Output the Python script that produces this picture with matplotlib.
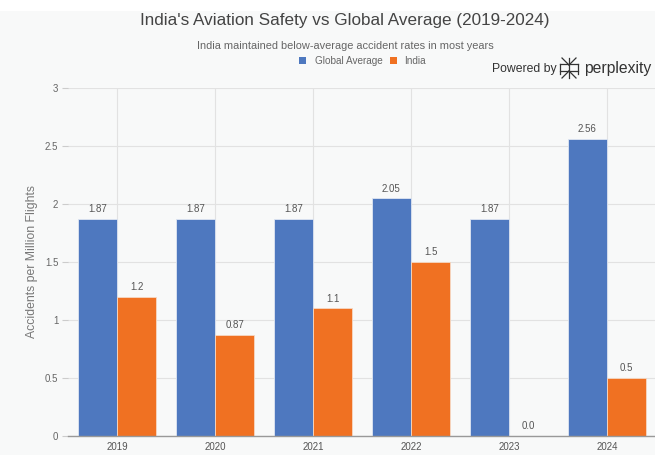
import matplotlib
matplotlib.use("Agg")
import matplotlib.pyplot as plt
import numpy as np
from matplotlib.patches import Rectangle

years = ["2019", "2020", "2021", "2022", "2023", "2024"]
global_avg = [1.87, 1.87, 1.87, 2.05, 1.87, 2.56]
india = [1.2, 0.87, 1.1, 1.5, 0.0, 0.5]
global_labels = ["1.87", "1.87", "1.87", "2.05", "1.87", "2.56"]
india_labels = ["1.2", "0.87", "1.1", "1.5", "0.0", "0.5"]
yticks = [0, 0.5, 1, 1.5, 2, 2.5, 3]
ytick_labels = ["0", "0.5", "1", "1.5", "2", "2.5", "3"]

plt.rcParams['font.family'] = ['Liberation Sans', 'DejaVu Sans']

BG = "#f8f9f9"
BLUE = "#4e78bf"
ORANGE = "#f07122"

fig = plt.figure(figsize=(6.55, 4.55), dpi=100)
fig.patch.set_facecolor(BG)
# white band on top
fig.add_artist(Rectangle((0, 1 - 11/455), 1, 11/455, transform=fig.transFigure,
                         facecolor="white", edgecolor="none", zorder=-1))

ax = fig.add_axes([68/655, 1 - 436/455, 588/655, (436 - 88)/455])
ax.set_facecolor(BG)

x = np.arange(len(years))
w = 0.4
ax.bar(x - w/2, global_avg, w, color=BLUE, edgecolor="#dfe6f2", linewidth=0.6, zorder=3)
ax.bar(x + w/2, india, w, color=ORANGE, edgecolor="#f6d9c4", linewidth=0.6, zorder=3)

for xi, v, lab in zip(x - w/2, global_avg, global_labels):
    ax.text(xi, v + 0.04, lab, ha="center", va="bottom", fontsize=7, color="#555555", zorder=4)
for xi, v, lab in zip(x + w/2, india, india_labels):
    ax.text(xi, v + 0.04, lab, ha="center", va="bottom", fontsize=7, color="#555555", zorder=4)

ax.set_xlim(-0.5, len(years) - 0.5)
ax.set_ylim(0, 3)
ax.set_xticks(x)
ax.set_xticklabels(years, fontsize=7, color="#555555")
ax.set_yticks(yticks)
ax.set_yticklabels(ytick_labels, fontsize=7, color="#666666")
ax.tick_params(axis="x", length=0, pad=4)
ax.tick_params(axis="y", length=4, color="#cccccc", pad=3)
ax.grid(True, color="#e2e2e2", linewidth=0.8, zorder=0)
for s in ["top", "right", "left"]:
    ax.spines[s].set_visible(False)
ax.spines["bottom"].set_color("#999999")
ax.spines["bottom"].set_linewidth(1.0)
ax.spines["bottom"].set_zorder(5)

fig.text(32/655, 1 - 262/455, "Accidents per Million Flights", rotation=90,
         ha="center", va="center", fontsize=8.8, color="#777777")

fig.text(345/655, 1 - 20/455, "India's Aviation Safety vs Global Average (2019-2024)",
         ha="center", va="center", fontsize=12.3, color="#444444")
fig.text(345/655, 1 - 46/455, "India maintained below-average accident rates in most years",
         ha="center", va="center", fontsize=7.9, color="#666666")

# legend
fig.add_artist(Rectangle((299/655, 1 - 64/455), 7/655, 7/455, transform=fig.transFigure,
                         facecolor=BLUE, edgecolor="none"))
fig.text(315/655, 1 - 60.5/455, "Global Average", ha="left", va="center", fontsize=7.2, color="#666666")
fig.add_artist(Rectangle((390/655, 1 - 64/455), 7/655, 7/455, transform=fig.transFigure,
                         facecolor=ORANGE, edgecolor="none"))
fig.text(404/655, 1 - 60.5/455, "India", ha="left", va="center", fontsize=7.2, color="#666666")

# Powered by perplexity
fig.text(492/655, 1 - 69/455, "Powered by", ha="left", va="center", fontsize=8.8, color="#333333")
fig.text(584/655, 1 - 68/455, "perplexity", ha="left", va="center", fontsize=11.3, color="#333333")
cx, cy = 569, 68
segs = [((cx, cy - 10), (cx, cy + 10)), ((cx - 7, cy - 10), (cx, cy - 3)), ((cx + 7, cy - 10), (cx, cy - 3)),
        ((cx - 7, cy + 10), (cx, cy + 3)), ((cx + 7, cy + 10), (cx, cy + 3)),
        ((cx - 9, cy - 4), (cx - 9, cy + 6)), ((cx + 9, cy - 4), (cx + 9, cy + 6)),
        ((cx - 9, cy - 4), (cx + 9, cy - 4)), ((cx - 9, cy + 3), (cx + 9, cy + 3))]
for (x0, y0), (x1, y1) in segs:
    fig.add_artist(plt.Line2D([x0/655, x1/655], [1 - y0/455, 1 - y1/455], transform=fig.transFigure,
                              color="#333333", linewidth=0.9))

fig.savefig("out.png", dpi=100, facecolor=BG)
